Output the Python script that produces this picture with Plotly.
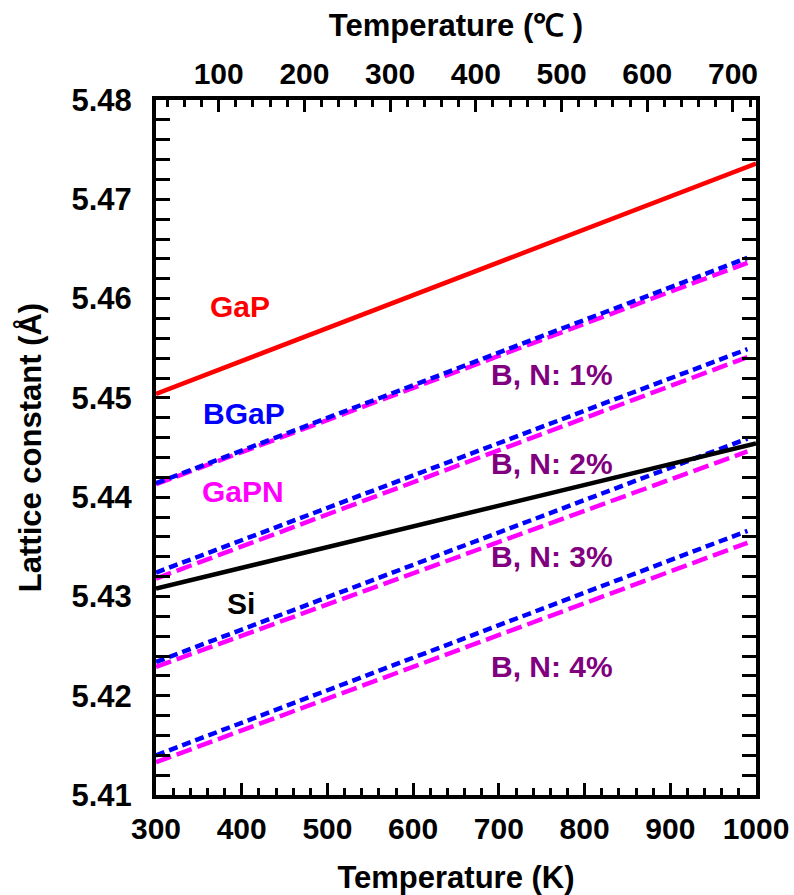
import plotly.graph_objects as go

# Temperatures (K)
T_full = [300, 1000]
T_alloy = [300, 990]

# Lattice constants (Angstrom)
gap = [5.4504, 5.4736]
si = [5.4308, 5.4454]
bgap_1 = [5.4414, 5.4641]
gapn_1 = [5.4413, 5.4636]
bgap_2 = [5.4324, 5.4549]
gapn_2 = [5.4318, 5.4541]
bgap_3 = [5.4234, 5.4459]
gapn_3 = [5.4229, 5.4446]
bgap_4 = [5.4140, 5.4366]
gapn_4 = [5.4133, 5.4354]

# text labels: (text, x in K, y, color)
labels = [
    ("GaP", 398, 5.4592, "#ff0000"),
    ("BGaP", 403, 5.4484, "#0000ff"),
    ("GaPN", 401, 5.4406, "#ff00ff"),
    ("Si", 399, 5.4293, "#000000"),
    ("B, N: 1%", 762, 5.4524, "#800080"),
    ("B, N: 2%", 762, 5.4434, "#800080"),
    ("B, N: 3%", 762, 5.4340, "#800080"),
    ("B, N: 4%", 762, 5.4229, "#800080"),
]

xticks_K = [300, 400, 500, 600, 700, 800, 900, 1000]
xticks_C = [100, 200, 300, 400, 500, 600, 700]
yticks = [5.41, 5.42, 5.43, 5.44, 5.45, 5.46, 5.47, 5.48]

FONT = "Arial, Liberation Sans, sans-serif"
fig = go.Figure()

for g in [gapn_1, gapn_2, gapn_3, gapn_4]:
    fig.add_trace(go.Scatter(x=T_alloy, y=g, mode="lines",
                             line=dict(color="#ff00ff", width=4.5, dash="16px,6px"),
                             showlegend=False))
for b in [bgap_1, bgap_2, bgap_3, bgap_4]:
    fig.add_trace(go.Scatter(x=T_alloy, y=b, mode="lines",
                             line=dict(color="#0000ff", width=4.5, dash="9px,5px"),
                             showlegend=False))
fig.add_trace(go.Scatter(x=T_full, y=si, mode="lines",
                         line=dict(color="#000000", width=4.5), showlegend=False))
fig.add_trace(go.Scatter(x=T_full, y=gap, mode="lines",
                         line=dict(color="#ff0000", width=4.5), showlegend=False))
# dummy trace for top axis (Celsius)
fig.add_trace(go.Scatter(x=[T_full[0] - 273.15, T_full[1] - 273.15], y=[None, None],
                         xaxis="x2", mode="lines", showlegend=False, hoverinfo="skip"))

for text, x, y, c in labels:
    fig.add_annotation(x=x, y=y, text="<b>%s</b>" % text, showarrow=False,
                       font=dict(family=FONT, size=30, color=c),
                       xanchor="center", yanchor="middle")

fig.update_layout(
    width=794, height=895,
    margin=dict(l=156, r=38, t=100, b=100),
    paper_bgcolor="white", plot_bgcolor="white",
    font=dict(family=FONT, size=30, color="black"),
    xaxis=dict(
        range=[300, 1000], tickvals=xticks_K,
        ticktext=["<b>%d</b>" % v for v in xticks_K],
        ticks="inside", ticklen=12, tickwidth=3, tickcolor="black",
        minor=dict(dtick=20, tick0=0, ticks="inside", ticklen=7, tickwidth=3, tickcolor="black"),
        showline=True, linewidth=4, linecolor="black", mirror=False,
        showgrid=False, zeroline=False, ticklabelstandoff=4, automargin=False,
        title=dict(text="<b>Temperature (K)</b>", standoff=24, font=dict(size=31)),
        tickfont=dict(size=30),
    ),
    xaxis2=dict(
        overlaying="x", side="top", range=[300 - 273.15, 1000 - 273.15],
        tickvals=xticks_C,
        ticktext=["<b>%d</b>" % v for v in xticks_C],
        ticks="inside", ticklen=12, tickwidth=3, tickcolor="black",
        minor=dict(dtick=20, tick0=0, ticks="inside", ticklen=7, tickwidth=3, tickcolor="black"),
        showline=True, linewidth=4, linecolor="black", automargin=False,
        showgrid=False, zeroline=False,
        title=dict(text="<b>Temperature (℃ )</b>", standoff=12, font=dict(size=31)),
        tickfont=dict(size=30),
    ),
    yaxis=dict(
        range=[5.41, 5.48],
        tickvals=yticks,
        ticktext=["<b>%.2f</b>" % v for v in yticks],
        ticks="inside", ticklen=14, tickwidth=3, tickcolor="black",
        minor=dict(dtick=0.002, tick0=5.41, ticks="inside", ticklen=8, tickwidth=3, tickcolor="black"),
        showline=True, linewidth=4, linecolor="black", mirror="allticks",
        showgrid=False, zeroline=False, ticklabelstandoff=14, automargin=False,
        title=dict(text="<b>Lattice constant (Å)</b>", standoff=22, font=dict(size=31)),
        tickfont=dict(size=31),
    ),
)

fig.write_html("out.html")
